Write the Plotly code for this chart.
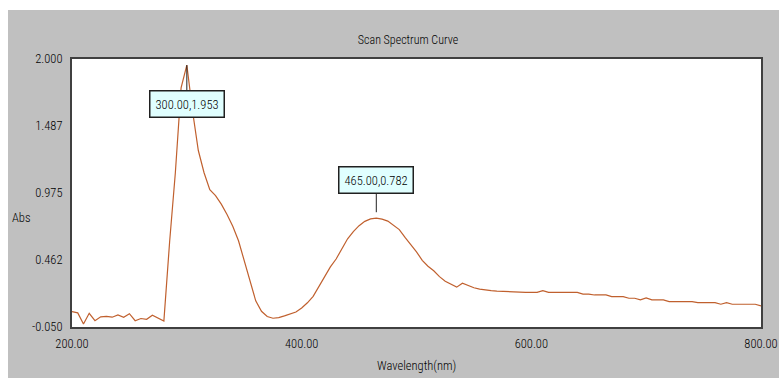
import plotly.graph_objects as go

wavelength = [200, 205, 210, 215, 220, 225, 230, 235, 240, 245, 250, 255, 260, 265, 270, 275, 280,
              285, 290, 295, 300, 305, 310, 315, 320, 325, 330, 335, 340, 345, 350, 355, 360, 365,
              370, 375, 380, 385, 390, 395, 400, 405, 410, 415, 420, 425, 430, 435, 440, 445, 450,
              455, 460, 465, 470, 475, 480, 485, 490, 495, 500, 505, 510, 515, 520, 525, 530, 535,
              540, 545, 550, 555, 560, 565, 570, 575, 580, 585, 590, 595, 600, 605, 610, 615, 620,
              625, 630, 635, 640, 645, 650, 655, 660, 665, 670, 675, 680, 685, 690, 695, 700, 705,
              710, 715, 720, 725, 730, 735, 740, 745, 750, 755, 760, 765, 770, 775, 780, 785, 790,
              795, 800]
absorbance = [0.067, 0.058, -0.027, 0.055, -0.002, 0.028, 0.031, 0.025, 0.042, 0.024, 0.052, -0.002,
              0.015, 0.009, 0.040, 0.017, -0.004,
              0.600, 1.130, 1.780, 1.953, 1.600, 1.300, 1.130, 1.000, 0.955, 0.890, 0.810, 0.720,
              0.610, 0.450, 0.290, 0.150, 0.070, 0.030, 0.017, 0.022, 0.035, 0.048, 0.065, 0.095,
              0.135, 0.185, 0.260, 0.340, 0.410, 0.470, 0.550, 0.625, 0.680, 0.725, 0.758, 0.777,
              0.782, 0.775, 0.760, 0.730, 0.695, 0.635, 0.580, 0.525, 0.460, 0.415, 0.380, 0.335,
              0.300, 0.275, 0.255, 0.285, 0.265, 0.250, 0.240, 0.232, 0.228, 0.225, 0.222, 0.220,
              0.220, 0.218, 0.215, 0.215, 0.215, 0.228, 0.215, 0.215, 0.215, 0.215, 0.215, 0.215,
              0.202, 0.202, 0.195, 0.195, 0.195, 0.182, 0.182, 0.182, 0.170, 0.170, 0.157, 0.172,
              0.157, 0.157, 0.157, 0.144, 0.144, 0.144, 0.144, 0.144, 0.136, 0.136, 0.136, 0.136,
              0.124, 0.136, 0.124, 0.124, 0.124, 0.124, 0.124, 0.111]

x_ticks = [200, 400, 600, 800]
x_tick_labels = ["200.00", "400.00", "600.00", "800.00"]
y_ticks = [-0.050, 0.462, 0.975, 1.487, 2.000]
y_tick_labels = ["-0.050", "0.462", "0.975", "1.487", "2.000"]

peaks = [(300, 1.953), (465, 0.782)]

FONT = "Roboto Condensed, DejaVu Sans Condensed, sans-serif"
GRAY = "#C0C0C0"
TXT = "#000000"
W = 300

def f(size=12.5):
    return dict(family=FONT, size=size, color=TXT, weight=W)

fig = go.Figure()
fig.add_trace(go.Scatter(x=wavelength, y=absorbance, mode="lines",
                         line=dict(color="#C0602E", width=1.2), hoverinfo="skip"))

fig.update_layout(
    width=779, height=378,
    margin=dict(l=72, r=18, t=59, b=51, autoexpand=False),
    paper_bgcolor=GRAY, plot_bgcolor="white",
    showlegend=False,
    font=f(12),
    title=dict(text="Scan Spectrum Curve", x=(408 - 72) / 689, xref="paper", xanchor="center",
               y=1 - 40 / 378, yanchor="middle", font=f(12), automargin=False),
    xaxis=dict(range=[200, 800], tickvals=x_ticks, ticktext=x_tick_labels, showgrid=False,
               zeroline=False, showline=True, mirror=True, linecolor="#404040", linewidth=2,
               ticks="", ticklabelstandoff=4, ticklabeloverflow="allow", automargin=False,
               tickfont=f()),
    yaxis=dict(range=[-0.05, 2.0], tickvals=y_ticks, ticktext=y_tick_labels, showgrid=False,
               zeroline=False, showline=True, mirror=True, linecolor="#404040", linewidth=2,
               ticks="", ticklabelstandoff=5, ticklabeloverflow="allow", automargin=False,
               tickfont=f()),
    shapes=[
        dict(type="rect", xref="paper", yref="paper", x0=-0.2, x1=(8 - 72) / 689, y0=-0.3, y1=1.3,
             fillcolor="white", line=dict(width=0), layer="below"),
        dict(type="rect", xref="paper", yref="paper", x0=-0.2, x1=1.2, y0=(327 - 10) / 268, y1=1.3,
             fillcolor="white", line=dict(width=0), layer="below"),
    ],
)

fig.add_annotation(text="Abs", xref="paper", yref="paper", x=(21 - 72) / 689, y=(327 - 217) / 268,
                   showarrow=False, xanchor="center", yanchor="middle", font=f())
fig.add_annotation(text="Wavelength(nm)", xref="paper", yref="paper", x=(416 - 72) / 689,
                   y=(327 - 365) / 268, showarrow=False, xanchor="center", yanchor="middle",
                   font=f())

offsets = [(0, 39, 0), (0, -38, 6)]
for (px, py), (ax, ay, so) in zip(peaks, offsets):
    fig.add_annotation(x=px, y=py, xref="x", yref="y", text=f"{px:.2f},{py:.3f}",
                       showarrow=True, arrowhead=0, arrowwidth=1, arrowcolor="#222222",
                       ax=ax, ay=ay, standoff=so,
                       bgcolor="#E0FFFF", bordercolor="#202020", borderwidth=1.5, borderpad=5,
                       font=f())

fig.write_html("out.html")
